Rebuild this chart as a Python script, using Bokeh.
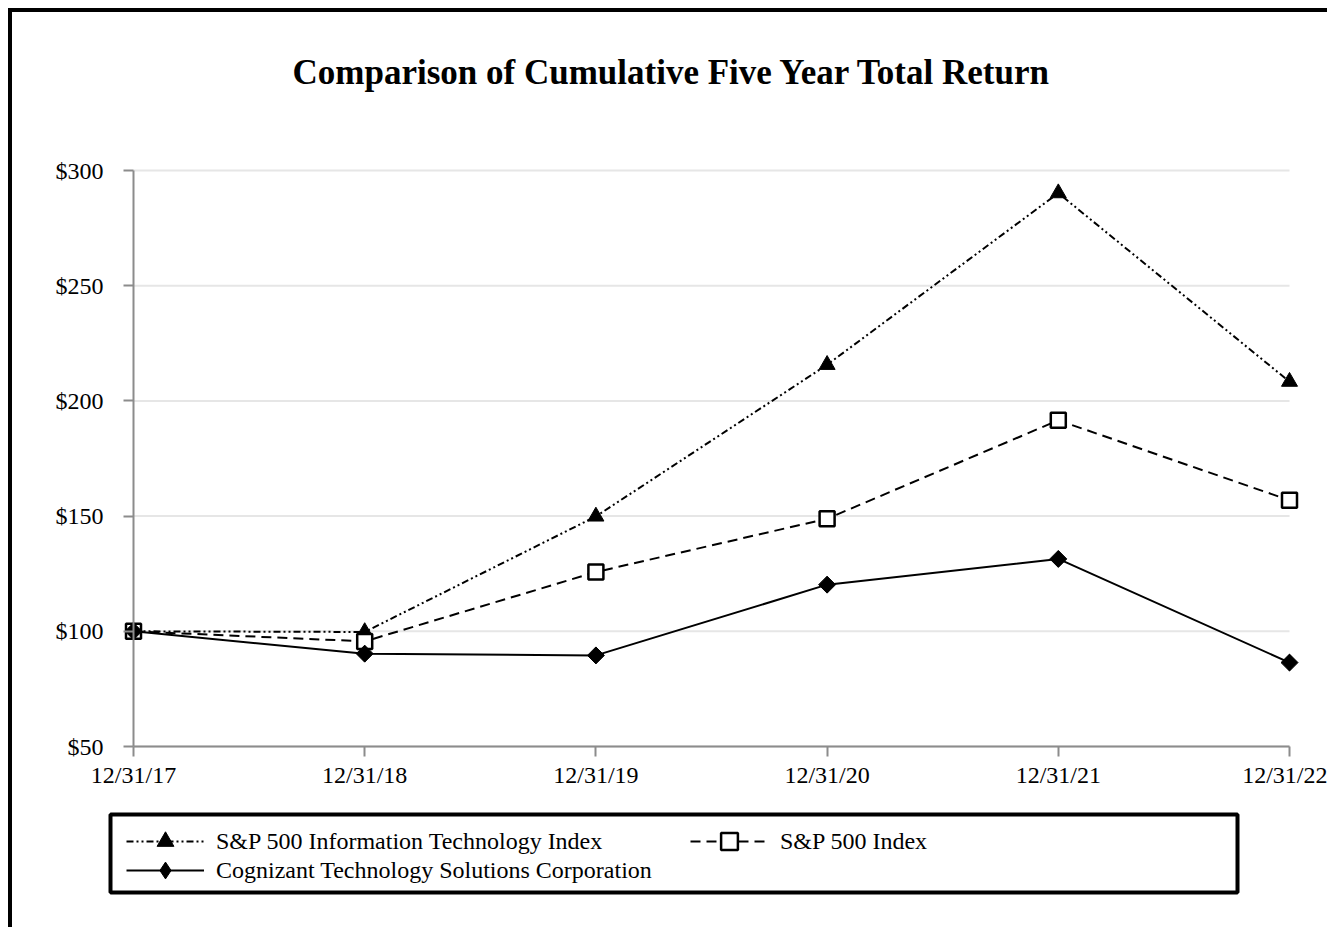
from bokeh.plotting import figure
from bokeh.models import Range1d, Legend, LegendItem, FixedTicker, BoxAnnotation
from bokeh.embed import file_html
from bokeh.resources import INLINE

# ---- data ----
dates = ["12/31/17", "12/31/18", "12/31/19", "12/31/20", "12/31/21", "12/31/22"]
it_index = [100, 99.71, 149.86, 215.68, 290.18, 208.35]
sp500 = [100, 95.62, 125.72, 148.85, 191.58, 156.88]
cognizant = [100, 90.29, 89.54, 120.24, 131.41, 86.42]
y_ticks = [50, 100, 150, 200, 250, 300]
y_labels = ["$50", "$100", "$150", "$200", "$250", "$300"]
series_names = ["S&P 500 Information Technology Index", "S&P 500 Index",
                "Cognizant Technology Solutions Corporation"]

xs = list(range(len(dates)))
FONT = "Liberation Serif"

# ---- layout geometry (page pixels) ----
W, H = 1319, 919            # canvas size (page 12..1331, 12..931)
ORIG = 12                   # canvas origin on page (8 margin + 4 border)
TOP = 100                   # frame top on canvas
ax_left, ax_right = 133, 1289   # page x of first/last date
ax_top, ax_bot = 170, 746       # page y of $300 / $50
ppx = (ax_right - ax_left) / (xs[-1] - xs[0])
ppy = (ax_bot - ax_top) / (y_ticks[-1] - y_ticks[0])


def px2x(px):
    return xs[0] + (px - ax_left) / ppx


def py2y(py):
    return y_ticks[0] + (ax_bot - py) / ppy


p = figure(width=W, height=H,
           x_range=Range1d(px2x(ORIG), px2x(ORIG + W)),
           y_range=Range1d(py2y(ORIG + H), py2y(ORIG + TOP)),
           output_backend="svg", toolbar_location=None,
           min_border_left=0, min_border_right=0,
           min_border_top=TOP, min_border_bottom=0)
p.styles = {"margin-left": "8px", "margin-top": "8px",
            "border-left": "4px solid black", "border-top": "4px solid black"}
p.outline_line_color = None
p.background_fill_color = "white"
p.border_fill_color = "white"

p.title.text = "Comparison of Cumulative Five Year Total Return"
p.title.text_font = FONT
p.title.text_font_size = "35px"
p.title.text_font_style = "bold"
p.title.align = "center"
p.title.text_color = "black"
p.title.standoff = 41

# gridlines from tick values
p.xgrid.visible = False
p.ygrid.visible = False
p.segment(x0=[xs[0]] * len(y_ticks), x1=[xs[-1]] * len(y_ticks), y0=y_ticks, y1=y_ticks,
          line_color="#e6e6e6", line_width=2)

# axes
axis_col = "#8c8c8c"
for ax in (p.xaxis, p.yaxis):
    ax.axis_line_color = axis_col
    ax.axis_line_width = 2
    ax.major_tick_line_color = axis_col
    ax.major_tick_line_width = 2
    ax.major_tick_in = 0
    ax.major_tick_out = 10
    ax.minor_tick_line_color = None
    ax.major_label_text_font = FONT
    ax.major_label_text_font_size = "24px"
    ax.major_label_text_color = "black"

p.xaxis.ticker = FixedTicker(ticks=xs)
p.xaxis.major_label_overrides = {i: d for i, d in zip(xs, dates)}
p.xaxis.bounds = (xs[0], xs[-1])
p.xaxis.fixed_location = y_ticks[0]
p.xaxis.major_label_standoff = 5

p.yaxis.ticker = FixedTicker(ticks=y_ticks)
p.yaxis.major_label_overrides = {t: l for t, l in zip(y_ticks, y_labels)}
p.yaxis.bounds = (y_ticks[0], y_ticks[-1])
p.yaxis.fixed_location = xs[0]
p.yaxis.major_label_standoff = 20

# series
l1 = p.line(xs, it_index, line_color="black", line_width=2, line_dash="7 3 2 3 2 3")
m1 = p.scatter(xs, it_index, marker="triangle", size=16, fill_color="black", line_color="black")
l2 = p.line(xs, sp500, line_color="black", line_width=2, line_dash="10 6")
m2 = p.scatter(xs, sp500, marker="square", size=15, fill_color="white", line_color="black", line_width=2.5)
l3 = p.line(xs, cognizant, line_color="black", line_width=2)
m3b = p.scatter(xs, cognizant, marker="diamond", size=16, fill_color="black", line_color="black")
m3 = p.scatter(xs, cognizant, marker="square", size=12, angle=0.7853981634,
               fill_color="black", line_color="black")

# legend frame
box = BoxAnnotation(left=px2x(110), right=px2x(1237), top=py2y(814), bottom=py2y(892),
                    fill_color="white", fill_alpha=1, line_color="black", line_alpha=1,
                    line_width=4)
p.add_layout(box)

GH = 42


def make_legend(label, renderers, glyph_left, center_y):
    lg = Legend(items=[LegendItem(label=label, renderers=renderers)])
    lg.location = (glyph_left - ORIG, (ORIG + H) - (center_y + GH / 2))
    lg.border_line_color = None
    lg.background_fill_alpha = 0
    lg.label_text_font = FONT
    lg.label_text_font_size = "24px"
    lg.label_text_color = "black"
    lg.glyph_width = 78
    lg.glyph_height = GH
    lg.label_height = 24
    lg.label_standoff = 12
    lg.padding = 0
    lg.spacing = 0
    lg.margin = 0
    p.add_layout(lg, "center")
    return lg


make_legend(series_names[0], [l1, m1], 126, 841)
make_legend(series_names[2], [l3, m3b], 126, 870)
make_legend(series_names[1], [l2, m2], 690, 841)

open("out.html", "w").write(file_html(p, INLINE))
